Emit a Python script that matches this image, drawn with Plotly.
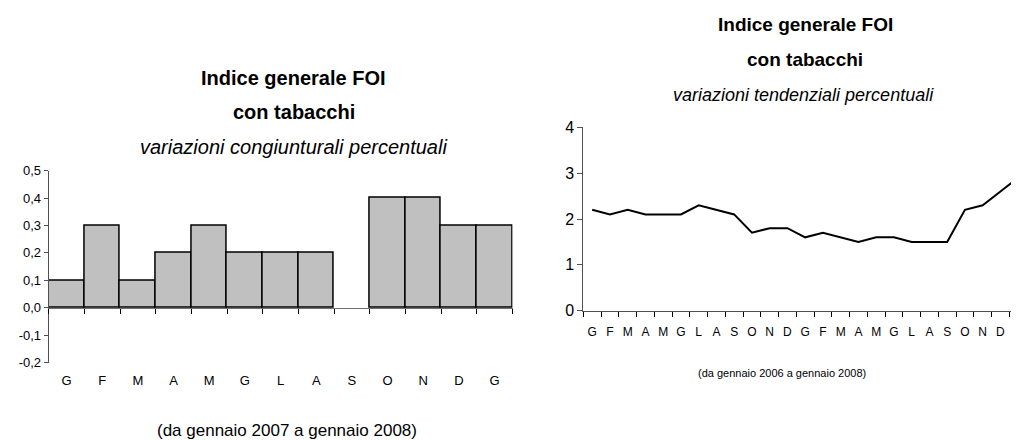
import plotly.graph_objects as go

# ---- data ----
months_left = ["G", "F", "M", "A", "M", "G", "L", "A", "S", "O", "N", "D", "G"]
cong_values = [0.1, 0.3, 0.1, 0.2, 0.3, 0.2, 0.2, 0.2, 0.0, 0.4, 0.4, 0.3, 0.3]

months_right = ["G", "F", "M", "A", "M", "G", "L", "A", "S", "O", "N", "D",
                "G", "F", "M", "A", "M", "G", "L", "A", "S", "O", "N", "D", "G"]
tend_values = [2.2, 2.1, 2.2, 2.1, 2.1, 2.1, 2.3, 2.2, 2.1, 1.7, 1.8, 1.8,
               1.6, 1.7, 1.6, 1.5, 1.6, 1.6, 1.5, 1.5, 1.5, 2.2, 2.3, 2.6, 2.9]

left_yticks = [-0.2, -0.1, 0.0, 0.1, 0.2, 0.3, 0.4, 0.5]
left_yticktext = ["-0,2", "-0,1", "0,0", "0,1", "0,2", "0,3", "0,4", "0,5"]
right_yticks = [0, 1, 2, 3, 4]

FONT = "Liberation Sans, Arial, sans-serif"

# ---- layout geometry (page body has an 8px margin) ----
W, H = 1019, 440
OFF = 8


def xp(px):
    return (px - OFF) / W


def yp(py):
    return 1 - (py - OFF) / H


lx0, lx1 = xp(48.7), xp(512.5)
ly0, ly1 = yp(362.5), yp(170.7)
lyr = [-0.2, 0.5]
zero_pos = ly0 + (0 - lyr[0]) / (lyr[1] - lyr[0]) * (ly1 - ly0)

rx0, rx1 = xp(583.3), 1.0
ry0, ry1 = yp(310.7), yp(127.3)
step = 17.75
r_end = -0.5 + (W + OFF - 583.3) / step

fig = go.Figure()

fig.add_trace(go.Bar(
    x=list(range(len(cong_values))), y=cong_values,
    marker=dict(color="#C0C0C0",
                line=dict(color="black",
                          width=[1.5 if v != 0 else 0 for v in cong_values])),
    xaxis="x", yaxis="y", showlegend=False, hoverinfo="skip",
))

fig.add_trace(go.Scatter(
    x=list(range(len(tend_values))), y=tend_values, mode="lines",
    line=dict(color="black", width=2),
    xaxis="x2", yaxis="y2", showlegend=False, hoverinfo="skip",
))

fig.update_layout(
    width=W, height=H,
    margin=dict(l=0, r=0, t=0, b=0, autoexpand=False),
    paper_bgcolor="white", plot_bgcolor="white",
    bargap=0,
    font=dict(family=FONT, color="black"),
    xaxis=dict(
        domain=[lx0, lx1], anchor="free", position=zero_pos, automargin=False,
        range=[-0.5, len(cong_values) - 0.5],
        tickvals=list(range(len(months_left))), ticktext=months_left,
        showline=True, linecolor="#707070", linewidth=1,
        ticks="", showgrid=False, zeroline=False,
        ticklabelstandoff=61,
        tickfont=dict(size=13, family=FONT),
        minor=dict(tickvals=[i - 0.5 for i in range(len(cong_values) + 1)],
                   ticks="outside", ticklen=5, tickcolor="black", tickwidth=1),
    ),
    yaxis=dict(
        domain=[ly0, ly1], anchor="x", range=lyr, automargin=False,
        tickvals=left_yticks, ticktext=left_yticktext,
        showline=True, linecolor="#505050", linewidth=1,
        ticks="outside", ticklen=4, tickcolor="#505050",
        showgrid=False, zeroline=False,
        tickfont=dict(size=13, family=FONT),
    ),
    xaxis2=dict(
        domain=[rx0, rx1], anchor="y2", automargin=False,
        range=[-0.5, r_end],
        tickvals=list(range(len(months_right))), ticktext=months_right,
        showline=True, linecolor="#505050", linewidth=1,
        ticks="", showgrid=False, zeroline=False,
        ticklabelstandoff=10,
        tickfont=dict(size=12, family=FONT),
        minor=dict(tickvals=[i - 0.5 for i in range(len(tend_values) + 1)],
                   ticks="outside", ticklen=5, tickcolor="black", tickwidth=1),
    ),
    yaxis2=dict(
        domain=[ry0, ry1], anchor="x2", range=[0, 4], automargin=False,
        tickvals=right_yticks,
        showline=True, linecolor="#505050", linewidth=1,
        ticks="outside", ticklen=5, tickcolor="#505050",
        showgrid=False, zeroline=False,
        tickfont=dict(size=16, family=FONT),
    ),
)

ann = [
    (293.5, 78, "<b>Indice generale FOI</b>", 20),
    (293.5, 112, "<b>con tabacchi</b>", 20),
    (293, 147, "<i>variazioni congiunturali percentuali</i>", 20),
    (287, 430, "(da gennaio 2007 a gennaio 2008)", 17),
    (805, 25, "<b>Indice generale FOI</b>", 19),
    (805, 60, "<b>con tabacchi</b>", 19),
    (803, 95, "<i>variazioni tendenziali percentuali</i>", 18),
    (782, 373, "(da gennaio 2006 a gennaio 2008)", 11),
]
for x, y, t, s in ann:
    fig.add_annotation(x=xp(x), y=yp(y), xref="paper", yref="paper", text=t,
                       showarrow=False, xanchor="center", yanchor="middle",
                       font=dict(size=s, family=FONT, color="black"))

fig.write_html("out.html")
